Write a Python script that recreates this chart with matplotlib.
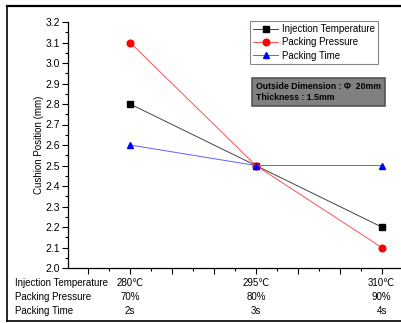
import matplotlib.pyplot as plt
from matplotlib.lines import Line2D
from matplotlib.ticker import MultipleLocator
from matplotlib.transforms import blended_transform_factory

plt.rcParams['font.family'] = ['Liberation Sans', 'DejaVu Sans']

# levels of the three factors
temps = [280, 295, 310]
temp_labels = ['280\u2103', '295\u2103', '310\u2103']
pressure_labels = ['70%', '80%', '90%']
time_labels = ['2s', '3s', '4s']
row_names = ['Injection Temperature', 'Packing Pressure', 'Packing Time']

# cushion position (mm)
inj_temp = [2.8, 2.5, 2.2]
pack_pressure = [3.1, 2.5, 2.1]
pack_time = [2.6, 2.5, 2.5]

W, H = 401, 323
fig = plt.figure(figsize=(W / 100, H / 100), dpi=100)
ax = fig.add_axes([68 / W, (H - 268) / H, (W - 68) / W, (268 - 22) / H])

ax.plot(temps, inj_temp, color='#444444', lw=0.7, marker='s', ms=4,
        mfc='black', mec='black', label='Injection Temperature')
ax.plot(temps, pack_pressure, color='#ff5050', lw=0.7, marker='o', ms=4.8,
        mfc='red', mec='red', label='Packing Pressure')
ax.plot(temps, pack_time, color='#6060ff', lw=0.7, marker='^', ms=4.8,
        mfc='blue', mec='blue', label='Packing Time')

ax.set_xlim(272.6, 312.3)
ax.set_ylim(2.0, 3.2)
ax.spines['top'].set_visible(False)
ax.spines['right'].set_visible(False)
for s in ('left', 'bottom'):
    ax.spines[s].set_linewidth(0.9)

ax.yaxis.set_major_locator(MultipleLocator(0.1))
ax.yaxis.set_minor_locator(MultipleLocator(0.05))
ax.yaxis.set_major_formatter(plt.FuncFormatter(lambda v, p: f'{v:.1f}'))
ax.xaxis.set_major_locator(MultipleLocator(5))
ax.xaxis.set_minor_locator(MultipleLocator(2.5))
ax.set_xticklabels([])
ax.tick_params(axis='both', which='major', length=4, width=0.8, labelsize=7.5, pad=1.5)
ax.tick_params(axis='both', which='minor', length=2.5, width=0.8)
ax.set_ylabel('Cushion Position (mm)', fontsize=7, labelpad=1)

# category rows under the axis
rows_y = [283, 297, 311]
for name, y in zip(row_names, rows_y):
    fig.text(15 / W, 1 - y / H, name, fontsize=7, ha='left', va='center')
tr = blended_transform_factory(ax.transData, fig.transFigure)
for labels, y in zip([temp_labels, pressure_labels, time_labels], rows_y):
    for x, lab in zip(temps, labels):
        ax.text(x, 1 - y / H, lab, fontsize=7, ha='center', va='center',
                transform=tr, clip_on=False)

leg = ax.legend(loc='upper left', bbox_to_anchor=(250 / W, 1 - 21 / H),
                bbox_transform=fig.transFigure, fontsize=7, frameon=True,
                fancybox=False, edgecolor='#888888', framealpha=1,
                handlelength=2.6, handletextpad=0.4, borderpad=0.3,
                labelspacing=0.35, borderaxespad=0)
leg.get_frame().set_linewidth(0.8)

fig.text(256 / W, 1 - 92 / H, 'Outside Dimension : \u03a6  20mm\nThickness : 1.5mm',
         fontsize=6.3, fontweight='bold', ha='left', va='center', linespacing=1.2,
         bbox=dict(boxstyle='square,pad=0.45', facecolor='#808080',
                   edgecolor='#555555', linewidth=1.2))

# outer frame
fig.add_artist(Line2D([7 / W, 7 / W], [1 - 6 / H, 1 - 321 / H], color='black', lw=1.2,
                      transform=fig.transFigure))
fig.add_artist(Line2D([7 / W, 1], [1 - 6 / H, 1 - 6 / H], color='black', lw=1.6,
                      transform=fig.transFigure))
fig.add_artist(Line2D([7 / W, 1], [1 - 321 / H, 1 - 321 / H], color='black', lw=1.2,
                      transform=fig.transFigure))

fig.savefig('out.png', dpi=100)
